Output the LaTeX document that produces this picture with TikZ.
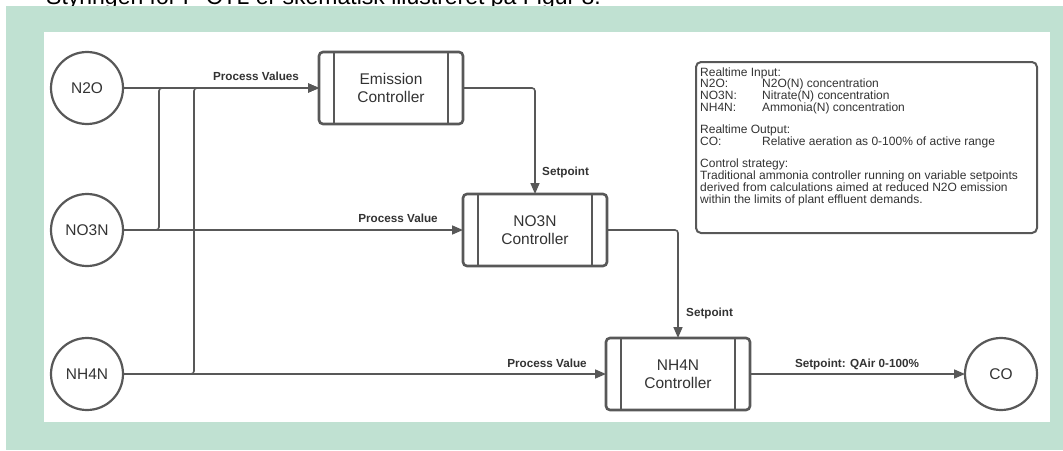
\documentclass[tikz,border=0pt]{standalone}
\usepackage{fontspec}
\setmainfont{Liberation Sans}
\usetikzlibrary{arrows.meta}
\definecolor{bggreen}{RGB}{192,225,210}
\definecolor{ln}{RGB}{88,88,88}
\definecolor{tx}{RGB}{51,51,51}
\begin{document}
\begin{tikzpicture}[x=1pt,y=-1pt,
  circ/.style={circle, draw=ln, line width=2.2pt, minimum size=72pt, inner sep=0pt, outer sep=0pt,
    font=\fontsize{15.5}{17}\selectfont, text=tx, fill=white},
  ctrl/.style={rectangle, rounded corners=4pt, draw=ln, line width=2.6pt, minimum width=144pt,
    minimum height=72pt, align=center, font=\fontsize{15.5}{18.5}\selectfont, text=tx,
    outer sep=0pt, inner sep=0pt, fill=white},
  conn/.style={draw=ln, line width=1.6pt, rounded corners=3pt},
  arr/.style={conn, -{Triangle[length=11pt,width=9pt]}},
  lbl/.style={font=\bfseries\fontsize{11.7}{13}\selectfont, text=tx, inner sep=0pt},
  bar/.style={draw=ln, line width=2pt},
]
\useasboundingbox (0,0) rectangle (1063,450);
% cropped caption above the panel
\node[anchor=base west, inner sep=0pt, font=\fontsize{23}{26}\selectfont] (cap) at (46,4)
  {Styringen for P-CTL er skematisk illustreret på Figur 8.};
% panels
\fill[bggreen] (6,6) rectangle (1063,450);
\fill[white] (44,32) rectangle (1050,422);

% sources
\node[circ] (n2o)  at (87,88)  {N2O};
\node[circ] (no3n) at (87,230) {NO3N};
\node[circ] (nh4n) at (87,374) {NH4N};
\node[circ] (co)   at (1001,374) {CO};

% controllers
\node[ctrl] (em) at (391,88)  {Emission\\Controller};
\node[ctrl] (nc) at (535,230) {NO3N\\Controller};
\node[ctrl] (hc) at (678,374) {NH4N\\Controller};
\foreach \n in {em,nc,hc}{
  \draw[bar] ([xshift=15pt]\n.north west) -- ([xshift=15pt]\n.south west);
  \draw[bar] ([xshift=-15pt]\n.north east) -- ([xshift=-15pt]\n.south east);
}

% junction coordinates
\coordinate (j1) at (159,230);
\coordinate (j1t) at (159,88);
\coordinate (j2) at (194,374);
\coordinate (j2t) at (194,88);

% connectors
\draw[arr] (n2o) -- (em);
\draw[arr] (no3n.east) -- (j1) -- (j1t) -- (em.west);
\draw[arr] (nh4n.east) -- (j2) -- (j2t) -- (em.west);
\draw[arr] (no3n) -- (nc);
\draw[arr] (nh4n) -- (hc);
\draw[arr] (em.east) -| (nc.north);
\draw[arr] (nc.east) -| (hc.north);
\draw[arr] (hc) -- (co);

% labels
\node[lbl, anchor=base] (l1) at (256,80.2) {Process Values};
\node[lbl, anchor=base] (l2) at (398,222.2) {Process Value};
\node[lbl, anchor=base] (l3) at (547,367.2) {Process Value};
\node[lbl, anchor=base] (l4) at (857,367.2) {Setpoint: QAir 0-100\%};
\node[lbl, anchor=base west] (l5) at (542,175.2) {Setpoint};
\node[lbl, anchor=base west] (l6) at (686,316.2) {Setpoint};

% info box
\draw[ln, line width=2pt, rounded corners=5pt] (696,62) rectangle (1037,233);
\node[anchor=base west, inner sep=0pt, text=tx, font=\fontsize{12}{10.4}\selectfont] (info) at (700,76)
{\begin{tabular}[t]{@{}p{62pt}@{}l@{}}
\multicolumn{2}{@{}l@{}}{Realtime Input:}\\
N2O: & N2O(N) concentration\\
NO3N: & Nitrate(N) concentration\\
NH4N: & Ammonia(N) concentration\\
 & \\
\multicolumn{2}{@{}l@{}}{Realtime Output:}\\
CO: & Relative aeration as 0-100\% of active range\\
 & \\
\multicolumn{2}{@{}l@{}}{Control strategy:}\\
\multicolumn{2}{@{}l@{}}{Traditional ammonia controller running on variable setpoints}\\
\multicolumn{2}{@{}l@{}}{derived from calculations aimed at reduced N2O emission}\\
\multicolumn{2}{@{}l@{}}{within the limits of plant effluent demands.}
\end{tabular}};
\end{tikzpicture}
\end{document}
